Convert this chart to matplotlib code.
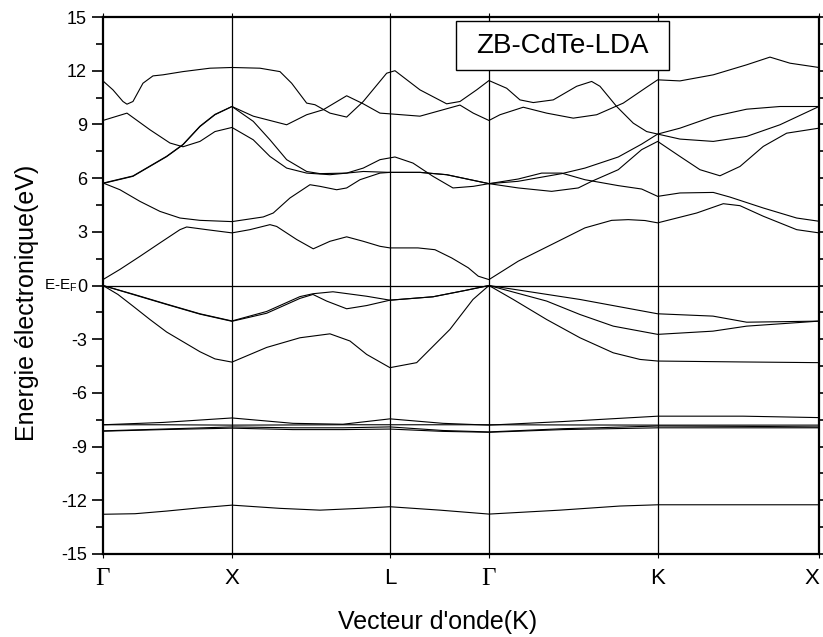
import numpy as np
import matplotlib.pyplot as plt
from matplotlib.patches import Rectangle

plt.rcParams['font.family'] = ['Liberation Sans', 'DejaVu Sans']
plt.rcParams['mathtext.fontset'] = 'custom'
plt.rcParams['mathtext.rm'] = 'Liberation Sans'
plt.rcParams['axes.unicode_minus'] = False

# high-symmetry points along the path (arbitrary path units)
kpts = [0.0, 1.287, 2.87, 3.86, 5.547, 7.16]
klabels = ["Γ", "X", "L", "Γ", "K", "X"]

# bands: (path coordinate, energy in eV)
band_s_k = [0, 0.32, 0.64, 0.97, 1.29, 1.77, 2.17, 2.57, 2.87, 3.37, 3.86, 4.57, 5.17, 5.55, 6.37, 7.16]
band_s_e = [-12.78, -12.75, -12.6, -12.42, -12.27, -12.45, -12.55, -12.45, -12.36, -12.55, -12.77,
            -12.55, -12.32, -12.25, -12.25, -12.25]

d_k = [0, 0.6, 1.29, 1.9, 2.4, 2.87, 3.4, 3.86, 4.6, 5.55, 6.4, 7.16]
band_dA_e = [-7.78, -7.78, -7.8, -7.79, -7.78, -7.78, -7.78, -7.78, -7.79, -7.8, -7.8, -7.8]
band_dB_e = [-7.78, -7.65, -7.4, -7.7, -7.75, -7.45, -7.7, -7.8, -7.6, -7.3, -7.3, -7.38]
band_dC_e = [-8.12, -8.02, -7.9, -7.95, -7.95, -7.9, -8.1, -8.18, -8.0, -7.85, -7.87, -7.9]
band_dD_e = [-8.14, -8.05, -7.97, -8.05, -8.05, -8.02, -8.15, -8.2, -8.05, -7.95, -7.95, -7.95]

vb3_k = [0, 0.15, 0.30, 0.47, 0.637, 0.97, 1.12, 1.29, 1.637, 1.97, 2.27, 2.47, 2.637, 2.87,
         3.137, 3.47, 3.70, 3.86, 4.103, 4.437, 4.77, 5.103, 5.37, 5.547, 6.37, 7.16]
vb3_e = [0, -0.5, -1.15, -1.9, -2.6, -3.7, -4.1, -4.28, -3.46, -2.92, -2.7, -3.1, -3.85, -4.59,
         -4.31, -2.45, -0.78, 0, -0.78, -1.9, -2.92, -3.76, -4.13, -4.22, -4.27, -4.31]

vb2_k = [0, 0.30, 0.637, 0.97, 1.29, 1.637, 1.97, 2.10, 2.237, 2.437, 2.637, 2.87, 3.30, 3.637,
         3.86, 4.437, 4.77, 5.103, 5.547, 6.10, 6.437, 7.16]
vb2_e = [0, -0.5, -1.06, -1.6, -2.0, -1.55, -0.72, -0.5, -0.87, -1.3, -1.12, -0.82, -0.63, -0.26,
         0, -0.87, -1.62, -2.27, -2.73, -2.55, -2.27, -1.99]

vb1_k = [0, 0.30, 0.637, 0.97, 1.29, 1.637, 1.97, 2.10, 2.30, 2.637, 2.87, 3.30, 3.637, 3.86,
         4.77, 5.547, 6.10, 6.437, 7.16]
vb1_e = [0, -0.48, -1.04, -1.58, -1.98, -1.45, -0.62, -0.46, -0.35, -0.6, -0.82, -0.63, -0.26, 0,
         -0.78, -1.58, -1.71, -2.05, -1.99]

cb1_k = [0, 0.17, 0.37, 0.57, 0.77, 0.837, 1.037, 1.29, 1.47, 1.67, 1.737, 1.937, 2.103, 2.27,
         2.437, 2.603, 2.77, 2.87, 3.15, 3.32, 3.487, 3.653, 3.753, 3.86, 4.153, 4.487, 4.82,
         5.087, 5.253, 5.42, 5.547, 5.937, 6.203, 6.37, 6.603, 6.937, 7.16]
cb1_e = [0.33, 0.9, 1.63, 2.38, 3.12, 3.27, 3.12, 2.94, 3.12, 3.4, 3.3, 2.57, 2.05, 2.47, 2.72,
         2.47, 2.19, 2.1, 2.1, 2.0, 1.54, 0.99, 0.52, 0.33, 1.36, 2.29, 3.22, 3.64, 3.68, 3.63,
         3.5, 4.05, 4.57, 4.46, 3.87, 3.12, 2.94]

cb2_k = [0, 0.17, 0.37, 0.57, 0.77, 0.97, 1.29, 1.603, 1.703, 1.87, 2.07, 2.17, 2.337, 2.437,
         2.57, 2.77, 2.87, 3.17, 3.437, 3.86, 4.153, 4.487, 4.753, 4.887, 5.153, 5.387, 5.547,
         5.77, 5.97, 6.17, 6.37, 6.603, 6.837, 7.16]
cb2_e = [5.73, 5.35, 4.7, 4.14, 3.77, 3.64, 3.57, 3.83, 4.05, 4.89, 5.63, 5.54, 5.35, 5.45, 5.91,
         6.28, 6.32, 6.32, 6.19, 5.69, 5.45, 5.26, 5.45, 5.82, 6.47, 7.59, 8.05, 7.21, 6.47, 6.13,
         6.65, 7.77, 8.51, 8.79]

cb3_k = [0, 0.30, 0.637, 0.80, 0.97, 1.12, 1.29, 1.503, 1.67, 1.837, 2.037, 2.17, 2.437, 2.603,
         2.87, 3.17, 3.437, 3.86, 4.153, 4.387, 4.587, 4.82, 5.153, 5.387, 5.547, 5.77, 6.103,
         6.27, 6.603, 6.937, 7.16]
cb3_e = [5.7, 6.1, 7.2, 7.86, 8.88, 9.54, 10.0, 9.17, 8.14, 7.03, 6.37, 6.25, 6.28, 6.37, 6.32,
         6.32, 6.19, 5.69, 5.95, 6.28, 6.28, 5.91, 5.58, 5.39, 4.98, 5.17, 5.2, 4.94, 4.33, 3.77,
         3.59]

cb4_k = [0, 0.30, 0.637, 0.80, 0.97, 1.12, 1.29, 1.503, 1.837, 2.037, 2.203, 2.437, 2.603, 2.77,
         2.87, 3.17, 3.57, 3.703, 3.86, 3.97, 4.203, 4.437, 4.703, 4.937, 5.203, 5.437, 5.547,
         5.77, 6.103, 6.437, 6.67, 6.87, 7.16]
cb4_e = [5.72, 6.12, 7.22, 7.88, 8.9, 9.56, 10.0, 9.46, 8.98, 9.54, 9.82, 10.6, 10.15, 9.63,
         9.59, 9.46, 10.08, 9.63, 9.22, 9.54, 9.96, 9.63, 9.35, 9.54, 10.19, 11.08, 11.49, 11.43,
         11.77, 12.33, 12.76, 12.42, 12.18]

cb5_k = [0, 0.24, 0.47, 0.67, 0.80, 0.97, 1.12, 1.29, 1.503, 1.67, 1.837, 2.037, 2.27, 2.437,
         2.603, 2.77, 2.92, 3.10, 3.30, 3.50, 3.703, 3.86, 4.15, 4.587, 4.82, 5.153, 5.387, 5.547,
         5.77, 6.103, 6.437, 6.77, 7.16]
cb5_e = [9.22, 9.63, 8.7, 7.96, 7.75, 8.05, 8.6, 8.83, 8.14, 7.21, 6.56, 6.28, 6.19, 6.28, 6.56,
         7.03, 7.18, 6.84, 6.1, 5.45, 5.54, 5.69, 5.82, 6.25, 6.56, 7.18, 7.9, 8.46, 8.18, 8.05,
         8.33, 8.98, 10.0]

cb6_k = [0, 0.10, 0.20, 0.24, 0.30, 0.40, 0.50, 0.60, 0.80, 1.07, 1.29, 1.57, 1.77, 1.887,
         2.037, 2.12, 2.27, 2.437, 2.603, 2.837, 2.92, 3.17, 3.437, 3.57, 3.737, 3.86, 4.037,
         4.17, 4.303, 4.503, 4.737, 4.887, 4.97, 5.137, 5.303, 5.437, 5.547, 5.77, 6.103, 6.437,
         6.77, 7.16]
cb6_e = [11.43, 10.93, 10.28, 10.13, 10.28, 11.3, 11.71, 11.77, 11.95, 12.14, 12.18, 12.14,
         11.95, 11.3, 10.19, 10.1, 9.63, 9.41, 10.28, 11.86, 12.0, 10.93, 10.15, 10.28, 10.93,
         11.45, 11.02, 10.37, 10.22, 10.37, 11.13, 11.4, 11.13, 10.0, 9.07, 8.6, 8.46, 8.79, 9.44,
         9.85, 10.0, 10.0]

bands = [
    (band_s_k, band_s_e),
    (d_k, band_dA_e), (d_k, band_dB_e), (d_k, band_dC_e), (d_k, band_dD_e),
    (vb3_k, vb3_e), (vb2_k, vb2_e), (vb1_k, vb1_e),
    (cb1_k, cb1_e), (cb2_k, cb2_e), (cb3_k, cb3_e), (cb4_k, cb4_e), (cb5_k, cb5_e), (cb6_k, cb6_e),
]

fig = plt.figure(figsize=(8.23, 6.37), dpi=100)
ax = fig.add_axes([0.1251, 0.1303, 0.8700, 0.8430])

for k, e in bands:
    ax.plot(k, e, color="black", lw=0.8)

for kp in kpts[1:-1]:
    ax.axvline(kp, color="black", lw=0.9)
ax.axhline(0, color="black", lw=0.9)

ax.set_xlim(kpts[0], kpts[-1])
ax.set_ylim(-15, 15)
ax.set_yticks(np.arange(-15, 16, 3))
ax.set_yticks(np.arange(-15, 16, 1.5), minor=True)
ax.set_xticks(kpts)
ax.set_xticklabels(klabels)
xlabs = ax.get_xticklabels()
for lab, name in zip(xlabs, klabels):
    if name == "Γ":
        lab.set_fontfamily("Liberation Serif")
        lab.set_fontsize(18)
    else:
        lab.set_fontsize(16)
xlabs[-1].set_horizontalalignment("right")

ax.tick_params(axis="y", which="both", direction="out", right=True, labelsize=13, width=1.2)
ax.tick_params(axis="y", which="major", length=8)
ax.tick_params(axis="y", which="minor", length=5)
ax.tick_params(axis="x", direction="out", length=3, top=True, pad=7)
for s in ax.spines.values():
    s.set_linewidth(1.6)

ax.set_ylabel("Energie électronique(eV)", fontsize=18)
ax.yaxis.set_label_coords(-0.09, 0.467)
ax.set_xlabel("Vecteur d'onde(K)", fontsize=18)
ax.xaxis.set_label_coords(0.468, -0.104)

ax.text(-0.036, 0.5, r"E-E$_\mathregular{F}$", transform=ax.transAxes, ha="right", va="center",
        fontsize=11)

ax.add_patch(Rectangle((0.4926, 0.9007), 0.2979, 0.0918, transform=ax.transAxes,
                       facecolor="white", edgecolor="black", lw=1.0, zorder=5))
ax.text(0.6416, 0.9467, "ZB-CdTe-LDA", transform=ax.transAxes, ha="center", va="center",
        fontsize=20, zorder=6)

fig.savefig("out.png", dpi=100)
